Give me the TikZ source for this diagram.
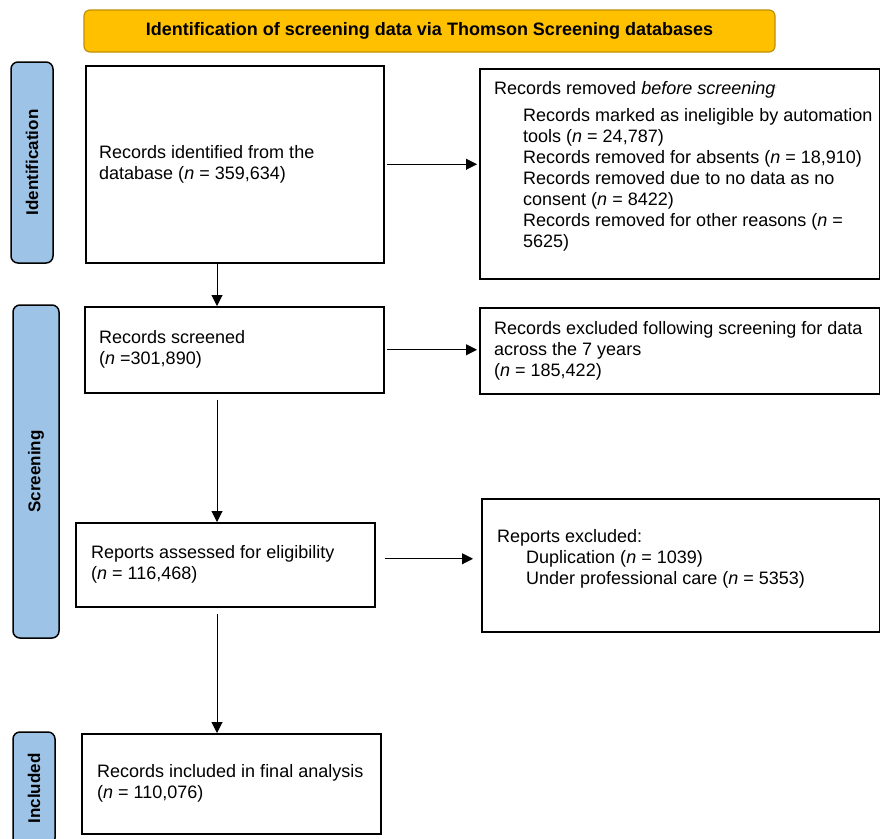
\documentclass[tikz,border=0pt]{standalone}
\usepackage{fontspec}
\setmainfont{Liberation Sans}
\usetikzlibrary{positioning,arrows.meta}
\definecolor{bannerfill}{HTML}{FFC000}
\definecolor{bannerdraw}{HTML}{BF9000}
\definecolor{stagefill}{HTML}{9DC3E6}
\tikzstyle{banner}=[rectangle, draw=bannerdraw, fill=bannerfill, rounded corners=6pt, line width=1.2pt,
        font=\fontsize{18}{21}\selectfont\bfseries]
\tikzstyle{stage}=[rectangle, draw=black, fill=stagefill, rounded corners=7pt, line width=1.5pt,
        rotate=90, font=\fontsize{17}{20}\selectfont\bfseries]
\tikzstyle{flowbox}=[rectangle, draw=black, line width=1.5pt, anchor=north west, inner sep=0pt]
\tikzstyle{flowtext}=[align=left, inner sep=0pt, font=\fontsize{18}{21}\selectfont]
\tikzstyle{myarrow}=[-{Triangle[length=11pt,width=11pt]}, line width=1pt]
\newcommand{\ind}{\hspace*{29pt}}

\begin{document}
\begin{tikzpicture}[x=1pt, y=-1pt]
\useasboundingbox (0,0) rectangle (880,838);

	% heading and stages
	\node (Heading) [banner, minimum width=691pt, minimum height=42pt] at (429.5,31)
        {Identification of screening data via Thomson Screening databases};
	\node (StageIdent) [stage, minimum width=201pt, minimum height=42pt] at (32,162.5) {Identification};
	\node (StageScreen) [stage, minimum width=333pt, minimum height=46pt] at (36,471.5) {Screening};
	\node (StageIncl) [stage, minimum width=113pt, minimum height=42pt] at (34,788.5) {Included};

	% main column
	\node (Identified) [flowbox, minimum width=298pt, minimum height=197pt] at (85,65) {};
	\node (IdentifiedText) [flowtext, anchor=west, right=14pt of Identified.west]
        {Records identified from the\\database (\textit{n} = 359,634)};

	\node (Screened) [flowbox, minimum width=299pt, minimum height=86pt] at (84,306) {};
	\node (ScreenedText) [flowtext, anchor=west, right=15pt of Screened.west]
        {Records screened\\(\textit{n} =301,890)};

	\node (Assessed) [flowbox, minimum width=299pt, minimum height=84pt] at (75,522) {};
	\node (AssessedText) [flowtext, anchor=west, right=16pt of Assessed.west]
        {Reports assessed for eligibility\\(\textit{n} = 116,468)};

	\node (Included) [flowbox, minimum width=299pt, minimum height=100pt] at (81,733) {};
	\node (IncludedText) [flowtext, anchor=west, right=16pt of Included.west]
        {Records included in final analysis\\(\textit{n} = 110,076)};

	% side column
	\node (Removed) [flowbox, minimum width=400pt, minimum height=210pt] at (479,68) {};
	\node (RemovedText) [flowtext, anchor=north west] at ([xshift=15pt,yshift=-13pt]Removed.north west)
        {Records removed \textit{before screening}\raisebox{0.6ex}{\tiny:}\\[6pt]
        \ind Records marked as ineligible by automation\\
        \ind tools (\textit{n} = 24,787)\\
        \ind Records removed for absents (\textit{n} = 18,910)\\
        \ind Records removed due to no data as no\\
        \ind consent (\textit{n} = 8422)\\
        \ind Records removed for other reasons (\textit{n} =\\
        \ind 5625)};

	\node (Excluded) [flowbox, minimum width=400pt, minimum height=86pt] at (479,307) {};
	\node (ExcludedText) [flowtext, anchor=west, right=15pt of Excluded.west]
        {Records excluded following screening for data\\across the 7 years\\(\textit{n} = 185,422)};

	\node (ReportsOut) [flowbox, minimum width=398pt, minimum height=133pt] at (481,498) {};
	\node (ReportsOutText) [flowtext, anchor=north west] at ([xshift=16pt,yshift=-31pt]ReportsOut.north west)
        {Reports excluded:\\
        \ind Duplication (\textit{n} = 1039)\\
        \ind Under professional care (\textit{n} = 5353)};

	\coordinate (Spine) at (217,0);

\draw[myarrow] (Identified.south -| Spine) -- (Screened.north -| Spine);
\draw[myarrow, shorten <=6pt] (Screened.south -| Spine) -- (Assessed.north -| Spine);
\draw[myarrow, shorten <=6pt] (Assessed.south -| Spine) -- (Included.north -| Spine);
\draw[myarrow, shorten <=2pt, shorten >=2pt] (Identified.east) -- (Identified.east -| Removed.west);
\draw[myarrow, shorten <=2pt, shorten >=2pt] (Screened.east) -- (Screened.east -| Excluded.west);
\draw[myarrow, shorten <=9pt, shorten >=8pt] ([yshift=6pt]Assessed.east) -- ([yshift=6pt]Assessed.east -| ReportsOut.west);
\end{tikzpicture}
\end{document}
